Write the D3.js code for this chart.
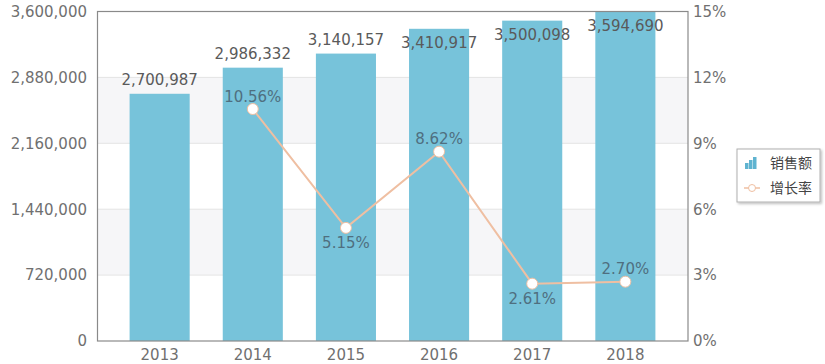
<!DOCTYPE html>
<html><head><meta charset="utf-8">
<script src="https://cdn.jsdelivr.net/npm/d3@7"></script>
<style>body{margin:0;background:#fff}svg{display:block}</style>
</head><body>
<svg id="c" width="825" height="364"></svg>
<script>
const years = ["2013","2014","2015","2016","2017","2018"];
const sales = [2700987, 2986332, 3140157, 3410917, 3500098, 3594690];
const growth = [null, 10.56, 5.15, 8.62, 2.61, 2.70];
const leftTicks = [0, 720000, 1440000, 2160000, 2880000, 3600000];
const rightTicks = [0, 3, 6, 9, 12, 15];
const legendLabels = ["销售额", "增长率"];

const W = 825, H = 364;
const m = {l: 97, r: 688, t: 11.5, b: 341};
const font = "'DejaVu Sans', Verdana, sans-serif";
const svg = d3.select("#c");

const x = d3.scaleBand().domain(years).range([m.l, m.r]).paddingInner(0.355).paddingOuter(0.35);
const yL = d3.scaleLinear().domain([0, 3600000]).range([m.b, m.t]);
const yR = d3.scaleLinear().domain([0, 15]).range([m.b, m.t]);

// alternating bands
const bandsG = svg.append("g");
for (let i = 0; i < leftTicks.length - 1; i++) {
  if (i % 2 === 1) {
    bandsG.append("rect").attr("x", m.l).attr("width", m.r - m.l)
      .attr("y", yL(leftTicks[i+1])).attr("height", yL(leftTicks[i]) - yL(leftTicks[i+1]))
      .attr("fill", "#f6f6f8");
  }
}
// grid lines
svg.append("g").selectAll("line").data(leftTicks.slice(1, -1)).join("line")
  .attr("x1", m.l).attr("x2", m.r).attr("y1", d => yL(d)).attr("y2", d => yL(d))
  .attr("stroke", "#e4e4e4").attr("stroke-width", 1);

// bars
svg.append("g").selectAll("rect").data(sales).join("rect")
  .attr("x", (d, i) => x(years[i])).attr("width", x.bandwidth())
  .attr("y", d => yL(d)).attr("height", d => m.b - yL(d))
  .attr("fill", "#73c1d9").attr("opacity", 0.97);

// frame
svg.append("rect").attr("x", m.l + 0.5).attr("y", m.t).attr("width", m.r - m.l - 0.5).attr("height", m.b - m.t)
  .attr("fill", "none").attr("stroke", "#8a8a8a").attr("stroke-width", 1.2);

// axes
const axisL = d3.axisLeft(yL).tickValues(leftTicks).tickFormat(d3.format(",")).tickSize(0).tickPadding(10);
const gL = svg.append("g").attr("transform", `translate(${m.l},0)`).call(axisL);
const axisR = d3.axisRight(yR).tickValues(rightTicks).tickFormat(d => d + "%").tickSize(0).tickPadding(5);
const gR = svg.append("g").attr("transform", `translate(${m.r},0)`).call(axisR);
const axisB = d3.axisBottom(x).tickSize(0).tickPadding(6);
const gB = svg.append("g").attr("transform", `translate(0,${m.b})`).call(axisB);
[gL, gR, gB].forEach(g => {
  g.select(".domain").remove();
  g.selectAll("text").attr("font-family", font).attr("font-size", 15).attr("fill", "#707070");
});
gB.selectAll("text").attr("dy", "0.85em");

// bar labels
svg.append("g").selectAll("text").data(sales).join("text")
  .attr("x", (d, i) => x(years[i]) + x.bandwidth() / 2)
  .attr("y", d => { const t = yL(d); return (t - 14 < 22 ? t + 14 : t - 14); })
  .attr("dy", "0.35em").attr("text-anchor", "middle")
  .attr("font-family", font).attr("font-size", 15).attr("fill", "#5a5a5a")
  .text(d => d3.format(",")(d));

// line
const pts = growth.map((g, i) => ({g, i})).filter(d => d.g !== null);
const cx = d => x(years[d.i]) + x.bandwidth() / 2;
svg.append("path").datum(pts)
  .attr("d", d3.line().x(cx).y(d => yR(d.g)))
  .attr("fill", "none").attr("stroke", "#efbfa2").attr("stroke-width", 2);
svg.append("g").selectAll("circle").data(pts).join("circle")
  .attr("cx", cx).attr("cy", d => yR(d.g)).attr("r", 5.5)
  .attr("fill", "#fff").attr("stroke", "#efbfa2").attr("stroke-width", 1);
svg.append("g").selectAll("text").data(pts).join("text")
  .attr("x", cx)
  .attr("y", d => {
    const prev = growth[d.i - 1], next = growth[d.i + 1];
    const below = prev != null && next != null && d.g < prev && d.g < next;
    return yR(d.g) + (below ? 15 : -12.5);
  })
  .attr("dy", "0.35em").attr("text-anchor", "middle")
  .attr("font-family", font).attr("font-size", 15).attr("fill", "#4f6f80")
  .text(d => d.g.toFixed(2) + "%");

// legend
const defs = svg.append("defs");
const f = defs.append("filter").attr("id", "sh").attr("x", "-20%").attr("y", "-20%").attr("width", "150%").attr("height", "150%");
f.append("feDropShadow").attr("dx", 1.5).attr("dy", 1.5).attr("stdDeviation", 1.2).attr("flood-color", "#000").attr("flood-opacity", 0.25);
const lg = svg.append("g").attr("transform", "translate(737,149)");
lg.append("rect").attr("width", 83).attr("height", 53).attr("fill", "#fff").attr("stroke", "#b0b0b0").attr("filter", "url(#sh)");
// bar icon
const bi = [[0,6],[4,9],[8,12]];
lg.append("g").selectAll("rect").data(bi).join("rect")
  .attr("x", d => 8 + d[0]).attr("width", 3.5).attr("y", d => 20 - d[1]).attr("height", d => d[1])
  .attr("fill", "#5fb3d0");
lg.append("line").attr("x1", 7).attr("x2", 23).attr("y1", 39).attr("y2", 39).attr("stroke", "#efbfa2").attr("stroke-width", 1.5);
lg.append("circle").attr("cx", 15).attr("cy", 39).attr("r", 3.5).attr("fill", "#fff").attr("stroke", "#efbfa2");
lg.selectAll("text.l").data(legendLabels).join("text").attr("class", "l")
  .attr("x", 33).attr("y", (d, i) => 14 + i * 25).attr("dy", "0.35em")
  .attr("font-family", "'Noto Sans CJK SC', sans-serif").attr("font-size", 14).attr("fill", "#444")
  .text(d => d);
</script>
</body></html>
